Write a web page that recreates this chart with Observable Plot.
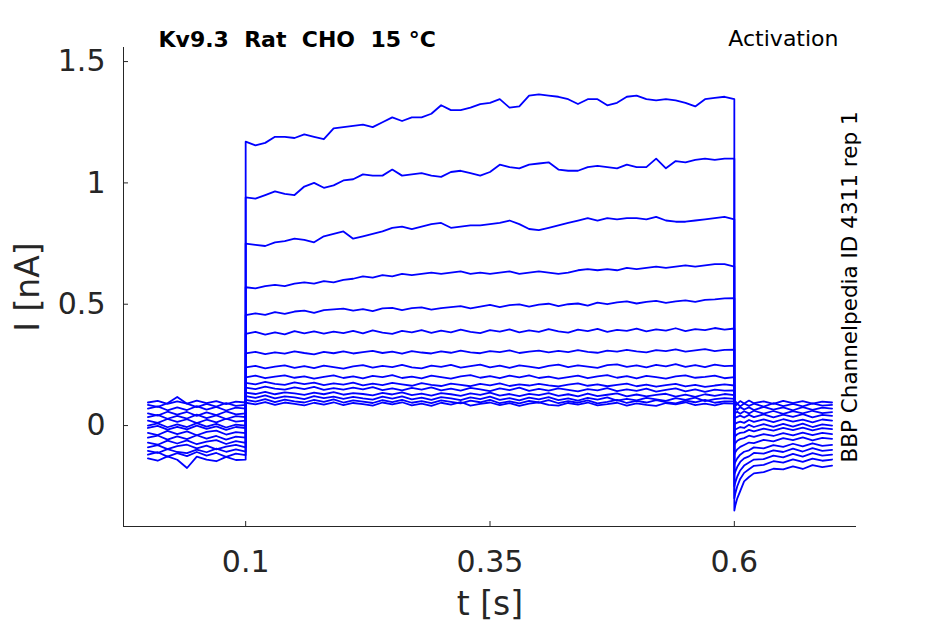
<!DOCTYPE html>
<html><head><meta charset="utf-8">
<script src="https://cdn.jsdelivr.net/npm/d3@7"></script>
<script src="https://cdn.jsdelivr.net/npm/@observablehq/plot@0.6"></script>
<style>body{margin:0;background:#fff} svg text{white-space:pre}</style>
</head><body><div id="chart"></div>
<script>
// ---- data ----
const title = "Kv9.3  Rat  CHO  15 °C";
const protocol = "Activation";
const sideNote = "BBP Channelpedia ID 4311 rep 1";
const xLabel = "t [s]";
const yLabel = "I [nA]";
const xDomain = [-0.025, 0.725];
const yDomain = [-0.416, 1.558];
const xTicks = [0.1, 0.35, 0.6];
const xTickLabels = ["0.1", "0.35", "0.6"];
const yTicks = [0, 0.5, 1, 1.5];
const yTickLabels = ["0", "0.5", "1", "1.5"];

const tPre = [0,0.01,0.02,0.03,0.04,0.05,0.06,0.07,0.08,0.09,0.1];
const tStep = [0.1,0.11,0.12,0.13,0.14,0.15,0.16,0.17,0.18,0.19,
  0.2,0.21,0.22,0.23,0.24,0.25,0.26,0.27,0.28,0.29,
  0.3,0.31,0.32,0.33,0.34,0.35,0.36,0.37,0.38,0.39,
  0.4,0.41,0.42,0.43,0.44,0.45,0.46,0.47,0.48,0.49,
  0.5,0.51,0.52,0.53,0.54,0.55,0.56,0.57,0.58,0.59,
  0.6];
const tPost = [0.6,0.601,0.603,0.606,0.61,0.615,0.62,0.63,0.64,0.65,0.66,0.67,0.68,0.69,0.7];

// current before the step (nA), one row per sweep
const preCurrents = [
  [-0.135,-0.145,-0.127,-0.141,-0.175,-0.128,-0.14,-0.147,-0.129,-0.142,-0.14],
  [-0.12,-0.11,-0.128,-0.114,-0.126,-0.109,-0.124,-0.113,-0.129,-0.116,-0.122],
  [-0.104,-0.113,-0.097,-0.109,-0.114,-0.099,-0.11,-0.095,-0.108,-0.098,-0.107],
  [-0.09,-0.081,-0.097,-0.085,-0.079,-0.094,-0.083,-0.098,-0.087,-0.08,-0.09],
  [-0.07,-0.079,-0.062,-0.074,-0.061,-0.077,-0.066,-0.06,-0.076,-0.064,-0.071],
  [-0.05,-0.041,-0.058,-0.045,-0.056,-0.04,-0.054,-0.043,-0.058,-0.046,-0.05],
  [-0.03,-0.039,-0.022,-0.035,-0.024,-0.04,-0.026,-0.021,-0.037,-0.027,-0.031],
  [-0.01,-0.001,-0.017,-0.005,-0.016,0.0,-0.014,-0.003,-0.018,-0.006,-0.01],
  [0.0,0.009,-0.007,0.005,-0.006,0.01,-0.004,0.007,-0.008,0.004,0.0],
  [0.02,0.011,0.027,0.015,0.026,0.01,0.024,0.013,0.028,0.016,0.02],
  [0.035,0.044,0.028,0.04,0.029,0.045,0.031,0.042,0.027,0.039,0.035],
  [0.05,0.041,0.057,0.045,0.056,0.04,0.054,0.043,0.058,0.046,0.05],
  [0.07,0.079,0.063,0.075,0.064,0.08,0.066,0.077,0.062,0.074,0.07],
  [0.085,0.077,0.092,0.118,0.09,0.076,0.089,0.078,0.093,0.081,0.085],
  [0.095,0.102,0.089,0.1,0.09,0.103,0.092,0.101,0.088,0.099,0.095]
];

// current during the step (nA)
const stepCurrents = [
  [1.17,1.155,1.165,1.19,1.19,1.185,1.20,1.19,1.18,1.225,
   1.23,1.235,1.24,1.23,1.25,1.27,1.255,1.27,1.27,1.285,
   1.32,1.30,1.30,1.31,1.325,1.33,1.345,1.31,1.315,1.36,
   1.365,1.36,1.355,1.345,1.325,1.345,1.345,1.32,1.33,1.355,
   1.36,1.345,1.34,1.345,1.34,1.33,1.315,1.345,1.35,1.355,
   1.345],
  [0.94,0.935,0.95,0.965,0.955,0.95,0.985,1.0,0.98,0.99,
   1.01,1.015,1.035,1.03,1.03,1.055,1.03,1.035,1.04,1.03,
   1.025,1.045,1.05,1.04,1.03,1.045,1.075,1.065,1.06,1.075,
   1.08,1.085,1.055,1.05,1.05,1.065,1.07,1.065,1.06,1.075,
   1.065,1.065,1.10,1.06,1.09,1.085,1.095,1.10,1.095,1.10,
   1.10],
  [0.75,0.745,0.74,0.755,0.76,0.77,0.765,0.755,0.78,0.79,
   0.80,0.77,0.78,0.79,0.80,0.815,0.82,0.81,0.82,0.83,
   0.835,0.815,0.82,0.825,0.825,0.83,0.835,0.845,0.83,0.81,
   0.805,0.815,0.825,0.835,0.845,0.855,0.845,0.855,0.85,0.855,
   0.855,0.85,0.86,0.845,0.84,0.84,0.845,0.85,0.855,0.86,
   0.85],
  [0.57,0.565,0.575,0.58,0.575,0.585,0.59,0.585,0.595,0.59,
   0.60,0.605,0.615,0.61,0.62,0.615,0.625,0.62,0.625,0.63,
   0.625,0.63,0.635,0.625,0.63,0.625,0.63,0.635,0.625,0.63,
   0.635,0.63,0.625,0.63,0.64,0.645,0.64,0.645,0.64,0.65,
   0.645,0.65,0.655,0.65,0.655,0.66,0.655,0.66,0.665,0.665,
   0.655],
  [0.455,0.462,0.456,0.467,0.46,0.47,0.474,0.464,0.476,0.479,
   0.482,0.474,0.48,0.472,0.483,0.485,0.476,0.484,0.487,0.478,
   0.484,0.488,0.492,0.483,0.49,0.497,0.488,0.496,0.499,0.49,
   0.498,0.502,0.492,0.5,0.503,0.494,0.507,0.5,0.508,0.512,
   0.503,0.51,0.514,0.506,0.512,0.516,0.51,0.518,0.52,0.524,
   0.525],
  [0.378,0.386,0.375,0.384,0.376,0.389,0.38,0.388,0.379,0.387,
   0.381,0.39,0.38,0.392,0.383,0.378,0.39,0.384,0.393,0.382,
   0.391,0.384,0.395,0.386,0.381,0.393,0.387,0.396,0.384,0.392,
   0.386,0.397,0.388,0.383,0.395,0.389,0.398,0.386,0.394,0.39,
   0.399,0.388,0.396,0.391,0.401,0.389,0.397,0.393,0.402,0.395,
   0.4],
  [0.297,0.304,0.294,0.302,0.296,0.306,0.299,0.293,0.304,0.298,
   0.306,0.297,0.303,0.308,0.299,0.305,0.296,0.307,0.301,0.297,
   0.306,0.3,0.309,0.302,0.298,0.307,0.303,0.31,0.299,0.305,
   0.309,0.302,0.308,0.303,0.311,0.304,0.3,0.309,0.305,0.312,
   0.306,0.302,0.311,0.307,0.314,0.305,0.31,0.315,0.307,0.312,
   0.313],
  [0.24,0.246,0.236,0.243,0.248,0.238,0.245,0.237,0.247,0.241,
   0.235,0.244,0.249,0.239,0.246,0.241,0.25,0.24,0.236,0.247,
   0.242,0.25,0.239,0.245,0.251,0.24,0.247,0.238,0.248,0.243,
   0.237,0.246,0.251,0.241,0.248,0.243,0.238,0.249,0.252,0.242,
   0.248,0.24,0.25,0.244,0.253,0.242,0.249,0.241,0.251,0.245,
   0.247],
  [0.199,0.206,0.195,0.202,0.207,0.197,0.203,0.193,0.201,0.207,
   0.196,0.203,0.194,0.205,0.2,0.208,0.196,0.202,0.194,0.206,
   0.2,0.193,0.203,0.208,0.197,0.204,0.195,0.206,0.199,0.207,
   0.196,0.202,0.193,0.2,0.206,0.195,0.203,0.208,0.197,0.204,
   0.194,0.205,0.2,0.193,0.203,0.207,0.197,0.201,0.206,0.195,
   0.2],
  [0.176,0.17,0.18,0.172,0.168,0.178,0.171,0.177,0.167,0.174,
   0.169,0.177,0.166,0.173,0.167,0.176,0.17,0.164,0.175,0.168,
   0.163,0.173,0.168,0.162,0.172,0.166,0.174,0.163,0.17,0.165,
   0.172,0.166,0.161,0.169,0.174,0.164,0.17,0.162,0.168,0.173,
   0.162,0.169,0.16,0.167,0.172,0.161,0.168,0.159,0.165,0.17,
   0.165],
  [0.156,0.15,0.16,0.152,0.148,0.157,0.15,0.159,0.147,0.154,
   0.148,0.156,0.149,0.158,0.146,0.153,0.145,0.155,0.148,0.157,
   0.145,0.152,0.144,0.155,0.149,0.142,0.153,0.146,0.156,0.143,
   0.151,0.144,0.153,0.147,0.141,0.15,0.145,0.154,0.142,0.149,
   0.143,0.152,0.14,0.147,0.153,0.141,0.149,0.139,0.148,0.144,
   0.145],
  [0.136,0.13,0.139,0.129,0.137,0.133,0.126,0.136,0.129,0.138,
   0.127,0.134,0.13,0.124,0.135,0.128,0.137,0.125,0.132,0.123,
   0.134,0.129,0.122,0.133,0.126,0.136,0.123,0.13,0.121,0.131,
   0.125,0.134,0.122,0.129,0.12,0.132,0.121,0.127,0.133,0.12,
   0.128,0.12,0.126,0.131,0.119,0.127,0.118,0.129,0.122,0.13,
   0.125],
  [0.121,0.114,0.124,0.112,0.12,0.116,0.109,0.121,0.113,0.119,
   0.11,0.118,0.112,0.107,0.119,0.111,0.12,0.108,0.115,0.106,
   0.117,0.112,0.105,0.116,0.109,0.119,0.106,0.113,0.104,0.115,
   0.108,0.117,0.105,0.112,0.103,0.114,0.107,0.116,0.103,0.11,
   0.104,0.114,0.108,0.102,0.113,0.106,0.115,0.101,0.109,0.113,
   0.11],
  [0.106,0.099,0.109,0.097,0.107,0.1,0.095,0.106,0.098,0.108,
   0.095,0.104,0.099,0.093,0.105,0.097,0.106,0.094,0.101,0.092,
   0.104,0.098,0.091,0.103,0.096,0.106,0.092,0.1,0.091,0.102,
   0.095,0.105,0.092,0.101,0.094,0.104,0.091,0.098,0.106,0.093,
   0.102,0.095,0.105,0.097,0.091,0.103,0.096,0.106,0.094,0.1,
   0.1],
  [0.094,0.087,0.097,0.085,0.095,0.089,0.083,0.094,0.086,0.096,
   0.084,0.093,0.088,0.082,0.095,0.087,0.096,0.083,0.09,0.081,
   0.094,0.086,0.097,0.082,0.089,0.095,0.084,0.092,0.081,0.09,
   0.096,0.085,0.082,0.093,0.086,0.095,0.083,0.088,0.094,0.082,
   0.091,0.085,0.081,0.093,0.087,0.096,0.084,0.09,0.083,0.092,
   0.09]
];

// current after the step (nA), including the tail
const postCurrents = [
  [-0.35,-0.33,-0.30,-0.27,-0.23,-0.212,-0.197,-0.192,-0.178,-0.181,-0.168,-0.179,-0.163,-0.171,-0.165],
  [-0.30,-0.28,-0.25,-0.22,-0.195,-0.18,-0.166,-0.162,-0.147,-0.153,-0.139,-0.15,-0.136,-0.145,-0.14],
  [-0.25,-0.235,-0.21,-0.185,-0.165,-0.152,-0.14,-0.138,-0.124,-0.131,-0.117,-0.128,-0.114,-0.124,-0.12],
  [-0.2,-0.19,-0.17,-0.15,-0.135,-0.127,-0.113,-0.116,-0.102,-0.109,-0.095,-0.107,-0.093,-0.104,-0.1],
  [-0.16,-0.15,-0.135,-0.12,-0.108,-0.102,-0.09,-0.094,-0.081,-0.088,-0.075,-0.086,-0.073,-0.084,-0.08],
  [-0.12,-0.11,-0.098,-0.088,-0.08,-0.07,-0.072,-0.059,-0.065,-0.052,-0.06,-0.049,-0.061,-0.051,-0.055],
  [-0.08,-0.072,-0.063,-0.056,-0.052,-0.042,-0.047,-0.035,-0.043,-0.031,-0.04,-0.029,-0.039,-0.03,-0.035],
  [-0.05,-0.043,-0.036,-0.03,-0.028,-0.018,-0.024,-0.013,-0.021,-0.01,-0.019,-0.009,-0.02,-0.011,-0.015],
  [-0.02,-0.016,-0.012,-0.006,-0.01,0.003,-0.006,0.006,-0.005,0.007,-0.004,0.008,-0.006,0.005,0.0],
  [0.005,0.008,0.012,0.016,0.011,0.023,0.015,0.025,0.014,0.026,0.016,0.024,0.013,0.025,0.02],
  [0.03,0.032,0.036,0.041,0.033,0.044,0.035,0.046,0.034,0.045,0.036,0.047,0.034,0.044,0.04],
  [0.05,0.052,0.057,0.049,0.059,0.05,0.061,0.049,0.06,0.048,0.059,0.05,0.061,0.051,0.055],
  [0.068,0.074,0.065,0.076,0.066,0.075,0.064,0.077,0.066,0.075,0.063,0.076,0.065,0.074,0.07],
  [0.085,0.08,0.09,0.079,0.091,0.081,0.09,0.078,0.092,0.08,0.089,0.079,0.091,0.082,0.085],
  [0.095,0.1,0.09,0.101,0.091,0.103,0.092,0.1,0.089,0.102,0.092,0.101,0.09,0.099,0.095]
];

// ---- build table ----
const rows = [];
preCurrents.forEach((pre, k) => {
  const push = (ts, vs) => ts.forEach((t, i) => { if (vs[i] != null) rows.push({sweep: k, t, v: vs[i]}); });
  push(tPre, pre);
  push(tStep, stepCurrents[k]);
  push(tPost, postCurrents[k]);
});

const ink = "#262626";
const plot = Plot.plot({
  width: 945, height: 624,
  marginLeft: 123, marginRight: 89, marginTop: 47, marginBottom: 98,
  style: {fontFamily: "DejaVu Sans", color: ink, background: "white", overflow: "visible"},
  x: {domain: xDomain},
  y: {domain: yDomain},
  marks: [
    Plot.line(rows, {x: "t", y: "v", z: "sweep", stroke: "#0000ff", strokeWidth: 1.8}),
    Plot.ruleX([xDomain[0]], {stroke: ink}),
    Plot.ruleY([yDomain[0]], {stroke: ink}),
    Plot.axisX(xTicks, {tickSize: 5, dy: -5, tickFormat: () => "", label: null}),
    Plot.axisY(yTicks, {tickSize: 5, dx: 5, tickFormat: () => "", label: null}),
    Plot.axisX(xTicks, {tickSize: 0, tickPadding: 24, fontSize: 30, label: null,
      tickFormat: d => xTickLabels[xTicks.indexOf(d)]}),
    Plot.axisY(yTicks, {tickSize: 0, tickPadding: 18, fontSize: 30, label: null,
      tickFormat: d => yTickLabels[yTicks.indexOf(d)]}),
    Plot.text([xLabel], {text: d => d, frameAnchor: "bottom", dy: 78, fontSize: 33, textAnchor: "middle", lineAnchor: "middle", fill: ink}),
    Plot.text([yLabel], {text: d => d, frameAnchor: "left", dx: -95, rotate: -90, fontSize: 33, textAnchor: "middle", lineAnchor: "middle", fill: ink}),
    Plot.text([title], {text: d => d, frameAnchor: "top-left", dx: 35, dy: -8, textAnchor: "start", lineAnchor: "middle", fontSize: 22, fontWeight: "bold", fill: "#000"}),
    Plot.text([protocol], {text: d => d, frameAnchor: "top-right", dx: -18, dy: -9, textAnchor: "end", lineAnchor: "middle", fontSize: 22, fill: "#000"}),
    Plot.text([sideNote], {text: d => d, frameAnchor: "right", dx: -6, rotate: -90, fontSize: 21.5, textAnchor: "middle", lineAnchor: "middle", fill: "#000"})
  ]
});
document.getElementById("chart").appendChild(plot);
</script>
</body></html>
